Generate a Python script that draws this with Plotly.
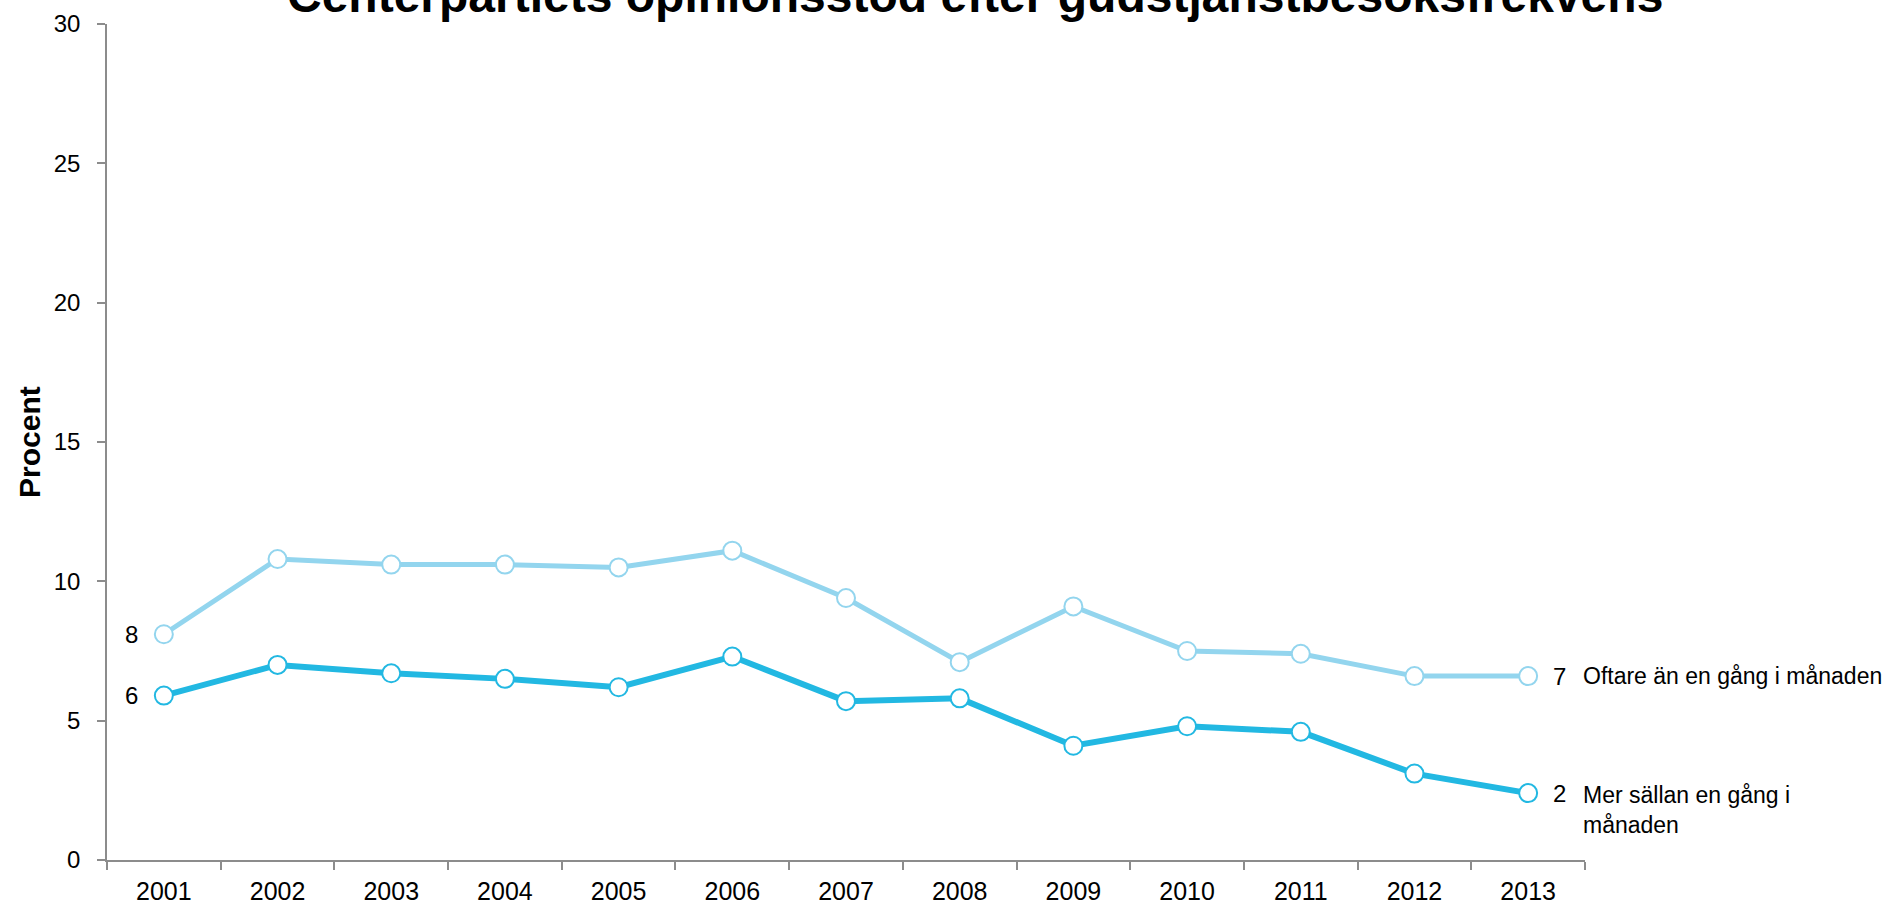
import plotly.graph_objects as go

years = ["2001", "2002", "2003", "2004", "2005", "2006", "2007",
         "2008", "2009", "2010", "2011", "2012", "2013"]
oftare = [8.1, 10.8, 10.6, 10.6, 10.5, 11.1, 9.4, 7.1, 9.1, 7.5, 7.4, 6.6, 6.6]
sallan = [5.9, 7.0, 6.7, 6.5, 6.2, 7.3, 5.7, 5.8, 4.1, 4.8, 4.6, 3.1, 2.4]
series_names = ["Oftare än en gång i månaden", "Mer sällan en gång i<br>månaden"]
title_text = "Centerpartiets opinionsstöd efter gudstjänstbesöksfrekvens"
y_title = "Procent"
y_ticks = [0, 5, 10, 15, 20, 25, 30]

light = "#93D5EE"
dark = "#22B8E2"
FONT = "Arial, Liberation Sans, sans-serif"

fig = go.Figure()
for vals, col, lw in [(oftare, light, 5), (sallan, dark, 6)]:
    fig.add_trace(go.Scatter(
        x=years, y=vals, mode="lines+markers",
        line=dict(color=col, width=lw),
        marker=dict(symbol="circle", size=18, color="white",
                    line=dict(color=col, width=2)),
        showlegend=False, hoverinfo="x+y"))

first_i = 0
last_i = len(years) - 1
ann = []
# value labels at start and end, and series labels
for vals, name, ys in [(oftare, series_names[0], 0), (sallan, series_names[1], -17)]:
    ann.append(dict(x=first_i, y=vals[0], xref="x", yref="y", text=str(round(vals[0])),
                    showarrow=False, xanchor="center", yanchor="middle", xshift=-32,
                    font=dict(size=24, color="black", family=FONT)))
    ann.append(dict(x=last_i, y=vals[-1], xref="x", yref="y", text=str(round(vals[-1])),
                    showarrow=False, xanchor="center", yanchor="middle", xshift=31,
                    font=dict(size=24, color="black", family=FONT)))
    ann.append(dict(x=last_i, y=vals[-1], xref="x", yref="y", text=name,
                    showarrow=False, xanchor="left", yanchor="middle", xshift=53, yshift=ys,
                    align="left", font=dict(size=23, color="black", family=FONT)))

# title (partly cut off at the top, as in reference)
ann.append(dict(x=(975 - 107) / 1478, y=1 + 28 / 836, xref="paper", yref="paper",
                text="<b>" + title_text + "</b>", showarrow=False,
                xanchor="center", yanchor="middle",
                font=dict(size=48, color="black", family=FONT)))
# y axis title
ann.append(dict(x=(29 - 107) / 1478, y=0.5, xref="paper", yref="paper",
                text="<b>" + y_title + "</b>", showarrow=False, textangle=-90,
                xanchor="center", yanchor="middle",
                font=dict(size=30, color="black", family=FONT)))

fig.update_layout(
    width=1898, height=905,
    margin=dict(l=107, r=313, t=24, b=45),
    paper_bgcolor="white", plot_bgcolor="white",
    font=dict(family=FONT, color="black"),
    annotations=ann,
)
fig.update_xaxes(
    type="category", range=[-0.5, 12.5], automargin=False,
    showline=True, linecolor="#8C8C8C", linewidth=1.5,
    ticks="outside", tickson="boundaries", ticklen=8, tickcolor="#8C8C8C", tickwidth=1.5,
    ticklabelstandoff=8,
    showgrid=False, zeroline=False,
    tickfont=dict(size=25, color="black", family=FONT),
)
fig.update_yaxes(
    range=[0, 30], tickvals=y_ticks, automargin=False,
    showline=True, linecolor="#8C8C8C", linewidth=1.5,
    ticks="outside", ticklen=8, tickcolor="#8C8C8C", tickwidth=1.5,
    ticklabelstandoff=12,
    showgrid=False, zeroline=False,
    tickfont=dict(size=24, color="black", family=FONT),
)
fig.write_html("out.html", config={"displayModeBar": False},
               post_script="document.body.style.margin='0';")
